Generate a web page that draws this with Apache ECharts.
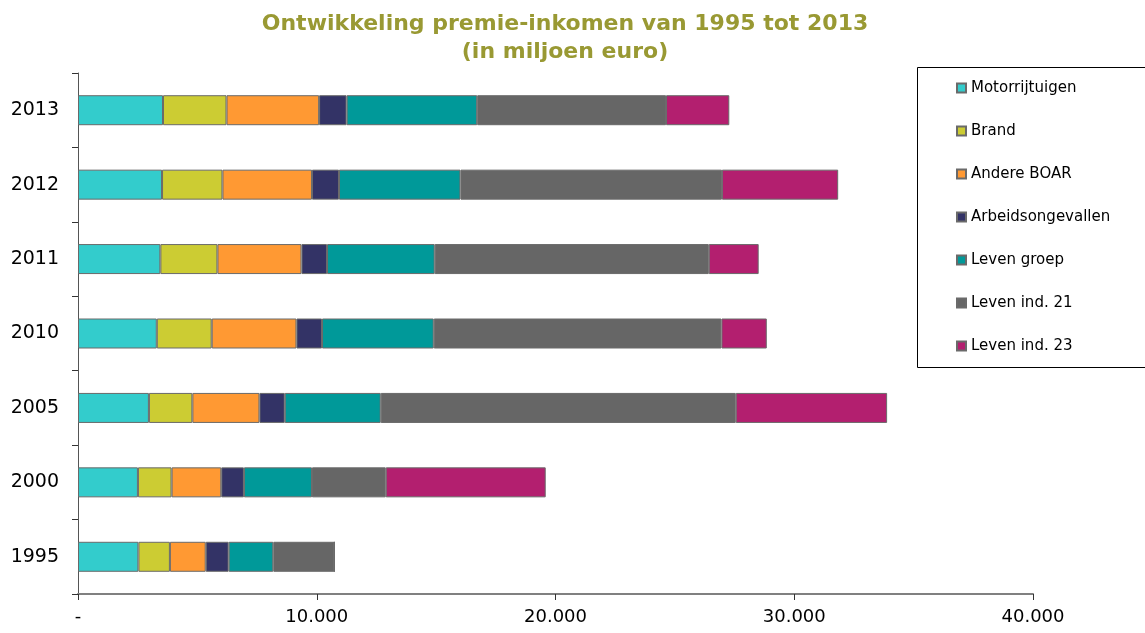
<!DOCTYPE html>
<html>
<head>
<meta charset="utf-8">
<script src="https://cdn.jsdelivr.net/npm/echarts@6/dist/echarts.min.js"></script>
<style>html,body{margin:0;padding:0;background:#fff;}#c{width:1145px;height:633px;}</style>
</head>
<body>
<div id="c"></div>
<script>
const years = ['1995','2000','2005','2010','2011','2012','2013'];
const seriesNames = ['Motorrijtuigen','Brand','Andere BOAR','Arbeidsongevallen','Leven groep','Leven ind. 21','Leven ind. 23'];
const motorrijtuigen   = [2530, 2510, 2970, 3300, 3450, 3520, 3560];
const brand            = [1320, 1410, 1820, 2300, 2390, 2530, 2660];
const andereBoar       = [1500, 2080, 2810, 3550, 3520, 3750, 3880];
const arbeidsongevallen= [960, 950, 1060, 1070, 1070, 1130, 1150];
const levenGroep       = [1870, 2850, 4020, 4680, 4510, 5090, 5470];
const levenInd21       = [2560, 3090, 14870, 12050, 11480, 10950, 7910];
const levenInd23       = [0, 6700, 6340, 1900, 2090, 4870, 2650];
const xTicks = [0, 10000, 20000, 30000, 40000];
const colors = ['#33CCCC','#CCCC33','#FF9933','#333366','#009999','#666666','#B31F6F'];

const values = [motorrijtuigen, brand, andereBoar, arbeidsongevallen, levenGroep, levenInd21, levenInd23];
const font = 'DejaVu Sans, Verdana, sans-serif';

const chart = echarts.init(document.getElementById('c'), null, {renderer:'canvas'});
chart.setOption({
  animation: false,
  color: colors,
  title: {
    text: 'Ontwikkeling premie-inkomen van 1995 tot 2013\n(in miljoen euro)',
    left: 560, top: 5, textAlign: 'center',
    textStyle: {fontFamily: font, fontSize: 22, fontWeight: 'bold', color: '#999933', lineHeight: 28}
  },
  graphic: [{
    type: 'rect', left: 917, top: 67, z: 0,
    shape: {x: 0, y: 0, width: 240, height: 300},
    style: {fill: '#fff', stroke: '#000', lineWidth: 1}
  }],
  legend: {
    orient: 'vertical', left: 956, top: 79, z: 10, padding: 0,
    itemWidth: 9, itemHeight: 9, itemGap: 25,
    icon: 'rect',
    data: seriesNames,
    textStyle: {fontFamily: font, fontSize: 15, color: '#000', lineHeight: 18}
  },
  grid: {left: 78, right: 112, top: 73, bottom: 39, containLabel: false},
  xAxis: {
    type: 'value', min: 0, max: 40000, interval: 10000,
    axisLine: {show: true, lineStyle: {color: '#808080', width: 2}},
    axisTick: {show: true, length: 6, lineStyle: {color: '#333', width: 1}},
    splitLine: {show: false},
    axisLabel: {
      fontFamily: font, fontSize: 18, color: '#000', margin: 14,
      formatter: v => v === 0 ? '-' : String(v).replace(/\B(?=(\d{3})+(?!\d))/g, '.')
    }
  },
  yAxis: {
    type: 'category', data: years,
    axisLine: {show: true, lineStyle: {color: '#555', width: 1}},
    axisTick: {show: true, length: 6, lineStyle: {color: '#333'}},
    axisLabel: {fontFamily: font, fontSize: 19, color: '#000', margin: 19}
  },
  series: seriesNames.map((n, i) => ({
    name: n, type: 'bar', stack: 'total', barWidth: 30,
    data: values[i],
    itemStyle: {color: colors[i], borderColor: '#6a6a6a', borderWidth: 1},
    emphasis: {disabled: true}
  }))
});
</script>
</body>
</html>
